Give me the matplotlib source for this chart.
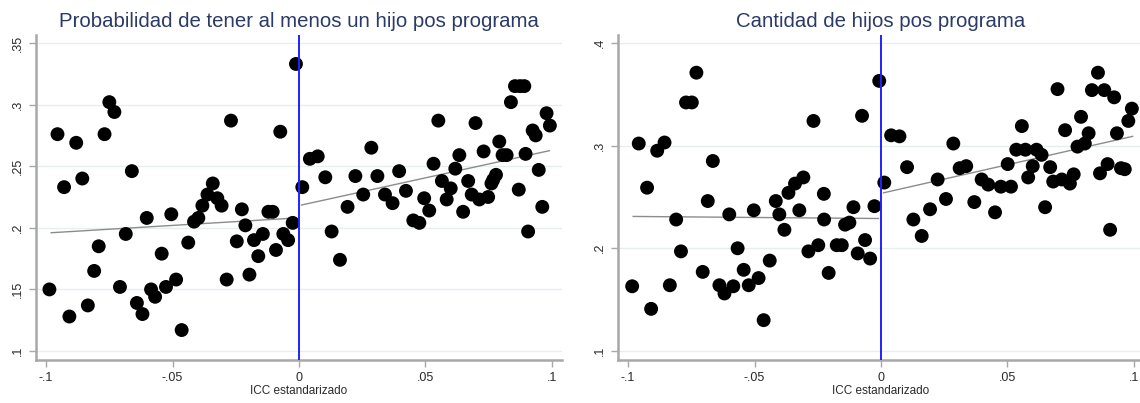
import numpy as np
import matplotlib
matplotlib.use("Agg")
from matplotlib import pyplot as plt

plt.rcParams['font.family'] = ['Liberation Sans', 'DejaVu Sans']

# Panel 1: probabilidad de tener al menos un hijo pos programa
p_x = [-0.0987, -0.0955, -0.0929, -0.0908, -0.0881, -0.0857, -0.0835, -0.0810, -0.0792,
       -0.0769, -0.0750, -0.0730, -0.0708, -0.0685, -0.0661, -0.0641, -0.0619, -0.0602,
       -0.0585, -0.0569, -0.0543, -0.0526, -0.0505, -0.0486, -0.0464, -0.0438, -0.0415,
       -0.0398, -0.0382, -0.0362, -0.0341, -0.0323, -0.0306, -0.0286, -0.0269, -0.0246,
       -0.0226, -0.0212, -0.0196, -0.0178, -0.0161, -0.0143, -0.0121, -0.0104, -0.0091,
       -0.0074, -0.0062, -0.0043, -0.0025, -0.0012,
       0.0013, 0.0043, 0.0074, 0.0104, 0.0129, 0.0162, 0.0192, 0.0223, 0.0254, 0.0286,
       0.0310, 0.0340, 0.0370, 0.0396, 0.0423, 0.0452, 0.0476, 0.0495, 0.0515, 0.0532,
       0.0551, 0.0565, 0.0584, 0.0600, 0.0618, 0.0634, 0.0649, 0.0669, 0.0683, 0.0698,
       0.0713, 0.0730, 0.0748, 0.0761, 0.0768, 0.0779, 0.0792, 0.0805, 0.0821, 0.0838,
       0.0854, 0.0869, 0.0874, 0.0891, 0.0896, 0.0906, 0.0924, 0.0936, 0.0948, 0.0962,
       0.0979, 0.0992]
p_y = [0.150, 0.276, 0.233, 0.128, 0.269, 0.240, 0.137, 0.165, 0.185,
       0.276, 0.302, 0.294, 0.152, 0.195, 0.246, 0.139, 0.130, 0.208,
       0.150, 0.144, 0.179, 0.152, 0.211, 0.158, 0.117, 0.188, 0.205,
       0.208, 0.218, 0.227, 0.236, 0.224, 0.218, 0.158, 0.287, 0.189,
       0.215, 0.202, 0.162, 0.190, 0.177, 0.195, 0.213, 0.213, 0.182,
       0.278, 0.195, 0.190, 0.204, 0.333,
       0.233, 0.256, 0.258, 0.241, 0.197, 0.174, 0.217, 0.242, 0.227, 0.265,
       0.242, 0.227, 0.220, 0.246, 0.230, 0.206, 0.204, 0.224, 0.214, 0.252,
       0.287, 0.238, 0.223, 0.232, 0.248, 0.259, 0.213, 0.238, 0.227, 0.285,
       0.223, 0.262, 0.225, 0.236, 0.239, 0.243, 0.270, 0.259, 0.259, 0.302,
       0.315, 0.231, 0.315, 0.315, 0.260, 0.197, 0.279, 0.275, 0.247, 0.217,
       0.293, 0.283]
p_fit_left_x = [-0.098, -0.001]
p_fit_left_y = [0.196, 0.208]
p_fit_right_x = [0.001, 0.099]
p_fit_right_y = [0.2185, 0.2626]

# Panel 2: cantidad de hijos pos programa
c_x = [-0.0984, -0.0958, -0.0925, -0.0909, -0.0885, -0.0856, -0.0835, -0.0810, -0.0791,
       -0.0771, -0.0748, -0.0730, -0.0705, -0.0685, -0.0665, -0.0639, -0.0619, -0.0600,
       -0.0584, -0.0567, -0.0543, -0.0523, -0.0503, -0.0484, -0.0464, -0.0440, -0.0416,
       -0.0402, -0.0382, -0.0366, -0.0340, -0.0323, -0.0307, -0.0287, -0.0267, -0.0248,
       -0.0226, -0.0225, -0.0207, -0.0175, -0.0155, -0.0142, -0.0125, -0.0109, -0.0092,
       -0.0075, -0.0063, -0.0043, -0.0026, -0.0007,
       0.0013, 0.0040, 0.0073, 0.0103, 0.0128, 0.0161, 0.0194, 0.0224, 0.0257, 0.0286,
       0.0311, 0.0337, 0.0369, 0.0398, 0.0424, 0.0451, 0.0474, 0.0501, 0.0514, 0.0535,
       0.0557, 0.0571, 0.0582, 0.0600, 0.0615, 0.0635, 0.0649, 0.0669, 0.0681, 0.0698,
       0.0715, 0.0728, 0.0747, 0.0762, 0.0777, 0.0791, 0.0806, 0.0821, 0.0834, 0.0858,
       0.0866, 0.0883, 0.0896, 0.0906, 0.0922, 0.0933, 0.0949, 0.0964, 0.0978, 0.0992]
c_y = [0.163, 0.302, 0.259, 0.141, 0.295, 0.303, 0.164, 0.228, 0.197,
       0.342, 0.342, 0.371, 0.177, 0.246, 0.285, 0.164, 0.156, 0.233,
       0.163, 0.200, 0.179, 0.164, 0.237, 0.171, 0.130, 0.188, 0.246,
       0.233, 0.218, 0.254, 0.263, 0.237, 0.269, 0.197, 0.324, 0.203,
       0.253, 0.228, 0.176, 0.203, 0.203, 0.223, 0.225, 0.240, 0.195,
       0.329, 0.208, 0.190, 0.241, 0.363,
       0.264, 0.310, 0.309, 0.279, 0.228, 0.212, 0.238, 0.267, 0.248, 0.302,
       0.278, 0.280, 0.245, 0.267, 0.262, 0.235, 0.260, 0.282, 0.260, 0.296,
       0.319, 0.296, 0.269, 0.280, 0.296, 0.291, 0.240, 0.279, 0.265, 0.355,
       0.267, 0.315, 0.263, 0.272, 0.299, 0.328, 0.302, 0.312, 0.354, 0.371,
       0.273, 0.354, 0.282, 0.218, 0.347, 0.312, 0.278, 0.277, 0.324, 0.336]
c_fit_left_x = [-0.098, -0.001]
c_fit_left_y = [0.231, 0.229]
c_fit_right_x = [0.001, 0.0995]
c_fit_right_y = [0.254, 0.309]

x_ticks = [-0.1, -0.05, 0, 0.05, 0.1]
x_ticklabels = ['-.1', '-.05', '0', '.05', '.1']
p_yticks = [0.1, 0.15, 0.2, 0.25, 0.3, 0.35]
p_yticklabels = ['.1', '.15', '.2', '.25', '.3', '.35']
c_yticks = [0.1, 0.2, 0.3, 0.4]
c_yticklabels = ['.1', '.2', '.3', '.4']

W, H = 1140, 403
fig = plt.figure(figsize=(W / 100, H / 100), dpi=100)
ax1 = fig.add_axes([36 / W, 1 - 360 / H, 526 / W, 325 / H])
ax2 = fig.add_axes([618 / W, 1 - 360 / H, 526 / W, 325 / H])

title_color = '#2b3b67'
grid_color = '#e6eef0'
spine_color = '#a8a8a8'


def panel(ax, x, y, lx, ly, rx, ry, yticks, yticklabels, ylim, title):
    ax.set_xlim(-0.104, 0.104)
    ax.set_ylim(*ylim)
    for t in yticks:
        ax.axhline(t, color=grid_color, lw=1.0, zorder=0)
    ax.scatter(x, y, s=100, color='black', edgecolors='none', zorder=3)
    ax.plot(lx, ly, color='#8c8c8c', lw=1.0, zorder=2)
    ax.plot(rx, ry, color='#8c8c8c', lw=1.0, zorder=2)
    ax.axvline(0, color='#2020ff', lw=1.4, zorder=4)
    ax.set_xticks(x_ticks)
    ax.set_xticklabels(x_ticklabels)
    ax.set_yticks(yticks)
    ax.set_yticklabels(yticklabels, rotation=90, va='center')
    ax.tick_params(axis='both', colors=spine_color, labelcolor='#2a2a2a',
                   labelsize=9, length=5, width=1.0)
    for s in ['top', 'right']:
        ax.spines[s].set_visible(False)
    for s in ['left', 'bottom']:
        ax.spines[s].set_color(spine_color)
        ax.spines[s].set_linewidth(1.8)
    ax.set_xlabel('ICC estandarizado', fontsize=8.5, color='#2a2a2a', labelpad=1)
    ax.set_title(title, fontsize=14.7, color=title_color, pad=6)


panel(ax1, p_x, p_y, p_fit_left_x, p_fit_left_y, p_fit_right_x, p_fit_right_y,
      p_yticks, p_yticklabels, (0.0927, 0.3565),
      'Probabilidad de tener al menos un hijo pos programa')
panel(ax2, c_x, c_y, c_fit_left_x, c_fit_left_y, c_fit_right_x, c_fit_right_y,
      c_yticks, c_yticklabels, (0.0912, 0.4077),
      'Cantidad de hijos pos programa')

fig.savefig('out.png', dpi=100, facecolor='white')
